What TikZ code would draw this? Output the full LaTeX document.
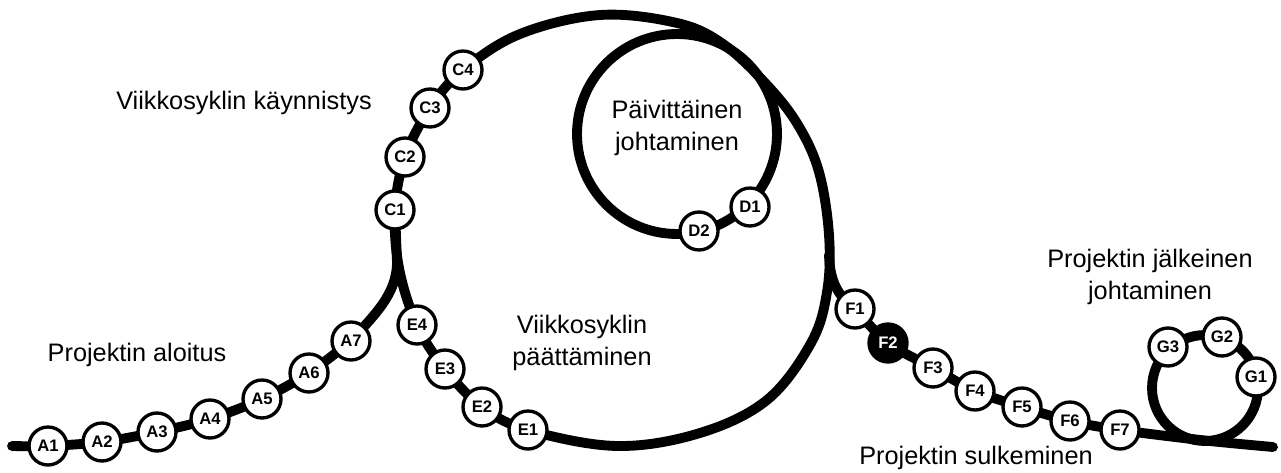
\documentclass[tikz,border=0pt]{standalone}
\usepackage{fontspec}
\setmainfont{Liberation Sans}
\usetikzlibrary{backgrounds}
\tikzstyle{bead}=[draw,circle,fill=white,line width=1.9pt,minimum size=0.76cm,inner sep=0pt,font=\bfseries\fontsize{9.5}{9.5}\selectfont]
\tikzstyle{donebead}=[bead,fill=black,text=white]
\tikzstyle{track}=[line width=5.6pt,line cap=round,line join=round]
\tikzstyle{phase}=[font=\fontsize{14.4}{18}\selectfont,align=center]

\begin{document}
\begin{tikzpicture}[x=0.02cm,y=-0.02cm]
  \useasboundingbox (0,0) rectangle (1281,473);
  % Projektin aloitus
  \coordinate (a0) at (12,446);
  \node[bead] (A1) at (48,446) {A1};
  \node[bead] (A2) at (102,442) {A2};
  \node[bead] (A3) at (157,432) {A3};
  \node[bead] (A4) at (210,419) {A4};
  \node[bead] (A5) at (262,399) {A5};
  \node[bead] (A6) at (309,373) {A6};
  \node[bead] (A7) at (351,341) {A7};
  \coordinate (J1) at (397,262);
  % viikkosykli
  \node[bead] (C1) at (395,210) {C1};
  \node[bead] (C2) at (405,157) {C2};
  \node[bead] (C3) at (430,108) {C3};
  \node[bead] (C4) at (463,70) {C4};
  \node[bead] (D1) at (750,207) {D1};
  \node[bead] (D2) at (699,231) {D2};
  \node[bead] (E4) at (417,325) {E4};
  \node[bead] (E3) at (445,369) {E3};
  \node[bead] (E2) at (482,407) {E2};
  \node[bead] (E1) at (528,430) {E1};
  \coordinate (J2) at (829,255);
  % Projektin sulkeminen
  \node[bead] (F1) at (855,309) {F1};
  \node[donebead] (F2) at (888,343) {F2};
  \node[bead] (F3) at (933,368) {F3};
  \node[bead] (F4) at (975,391) {F4};
  \node[bead] (F5) at (1022,407) {F5};
  \node[bead] (F6) at (1070,421) {F6};
  \node[bead] (F7) at (1120,430) {F7};
  \coordinate (g0) at (1273,447);
  % jalkeinen
  \coordinate (gc) at (1205,388);
  \node[bead] (G1) at (1256,377) {G1};
  \node[bead] (G2) at (1222,337) {G2};
  \node[bead] (G3) at (1168,347) {G3};

  \node[phase] (aloitus) at (137,355) {Projektin aloitus};
  \node[phase] (kaynnistys) at (244,103) {Viikkosyklin käynnistys};
  \node[phase] (paivittainen) at (677,128) {Päivittäinen\\johtaminen};
  \node[phase] (paattaminen) at (582,343) {Viikkosyklin\\päättäminen};
  \node[phase] (jalkeinen) at (1150,277) {Projektin jälkeinen\\johtaminen};
  \node[phase] (sulkeminen) at (976,458) {Projektin sulkeminen};

  \begin{scope}[on background layer]
    \draw[track] plot[smooth] coordinates {(a0) (A1.center) (A2.center) (A3.center) (A4.center) (A5.center) (A6.center) (A7.center)}
      .. controls (373,316) and (397,295) .. (J1) -- (C1.center);
    \draw[track] plot[smooth cycle,tension=0.6] coordinates {(C1.center) (C2.center) (C3.center) (C4.center)
      (520,34) (600,15) (677,23) (723,44) (767,85) (798,125) (819,172) (829,235) (827,292) (811,343) (767,400) (700,433) (617,446)
      (E1.center) (E2.center) (E3.center) (E4.center) (399,268)};
    \draw[track] (677,134) circle[radius=2cm];
    \draw[track] (J2) .. controls (830,282) and (838,296) .. (F1.center);
    \draw[track] plot[smooth] coordinates {(F1.center) (F2.center) (F3.center) (F4.center) (F5.center) (F6.center) (F7.center) (1205,440.5) (g0)};
    \draw[track] (gc) circle[radius=1.06cm];
  \end{scope}
\end{tikzpicture}
\end{document}
